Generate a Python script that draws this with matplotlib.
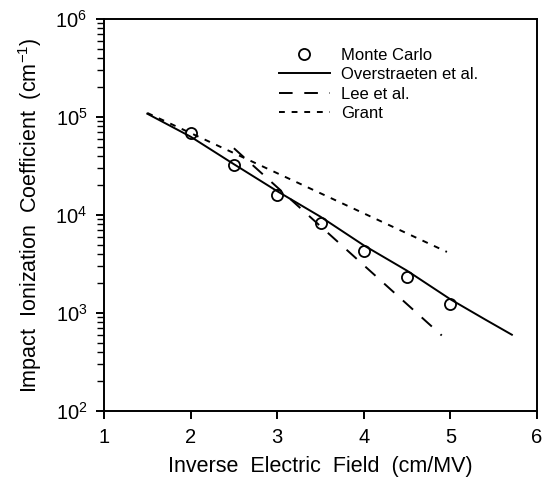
import matplotlib
matplotlib.use("Agg")
import matplotlib.pyplot as plt
import numpy as np

plt.rcParams['font.family'] = ['Liberation Sans', 'DejaVu Sans']
plt.rcParams['mathtext.fontset'] = 'custom'
plt.rcParams['mathtext.rm'] = 'Liberation Sans'
plt.rcParams['mathtext.it'] = 'Liberation Sans'

# Monte Carlo points
mc_x = [2.0, 2.5, 3.0, 3.5, 4.0, 4.5, 5.0]
mc_y = [6.9e4, 3.2e4, 1.6e4, 8.2e3, 4.3e3, 2.35e3, 1.24e3]

# Overstraeten et al.
ov_x = [1.5, 2.0, 2.5, 3.0, 3.5, 4.0, 4.5, 5.0, 5.4, 5.71]
ov_y = [1.08e5, 6.3e4, 3.3e4, 1.75e4, 9.6e3, 4.9e3, 2.7e3, 1.38e3, 860, 600]

# Lee et al.
lee_x = [2.5, 4.9]
lee_y = [4.8e4, 590]

# Grant
gr_x = [1.5, 4.96]
gr_y = [1.1e5, 4.2e3]

xticks = [1, 2, 3, 4, 5, 6]

fig = plt.figure(figsize=(5.47, 4.90), dpi=100)
ax = fig.add_axes([104/547, 1-411/490, 433/547, 392/490])

ax.plot(mc_x, mc_y, linestyle='none', marker='o', markersize=8,
        markerfacecolor='none', markeredgecolor='black', markeredgewidth=1.3,
        label='Monte Carlo')
ax.plot(ov_x, ov_y, color='black', lw=1.4, label='Overstraeten et al.')
ax.plot(lee_x, lee_y, color='black', lw=1.4, linestyle=(0, (7, 6)), label='Lee et al.')
ax.plot(gr_x, gr_y, color='black', lw=1.4, linestyle=(0, (3, 3.5)), label='Grant')

ax.set_yscale('log')
ax.set_xlim(1, 6)
ax.set_ylim(1e2, 1e6)
ax.set_xticks(xticks)
ax.set_xticklabels([str(t) for t in xticks])

for s in ax.spines.values():
    s.set_linewidth(1.4)

ax.tick_params(axis='both', which='major', direction='out', length=6, width=1.4,
               labelsize=14.5, pad=6)
ax.tick_params(axis='y', which='minor', direction='out', length=5, width=1.0)
ax.tick_params(top=False, right=False)

ax.set_xlabel('Inverse  Electric  Field  (cm/MV)', fontsize=15.5, labelpad=7)
ax.set_ylabel('Impact  Ionization  Coefficient  (cm$^{-1}$)', fontsize=15.5, labelpad=8)

leg = ax.legend(loc='upper left', bbox_to_anchor=(0.404, 0.927), frameon=False,
                fontsize=12, handlelength=3.05, handletextpad=0.66,
                labelspacing=0.27, borderpad=0, borderaxespad=0, numpoints=1)

fig.savefig('out.png', dpi=100)
